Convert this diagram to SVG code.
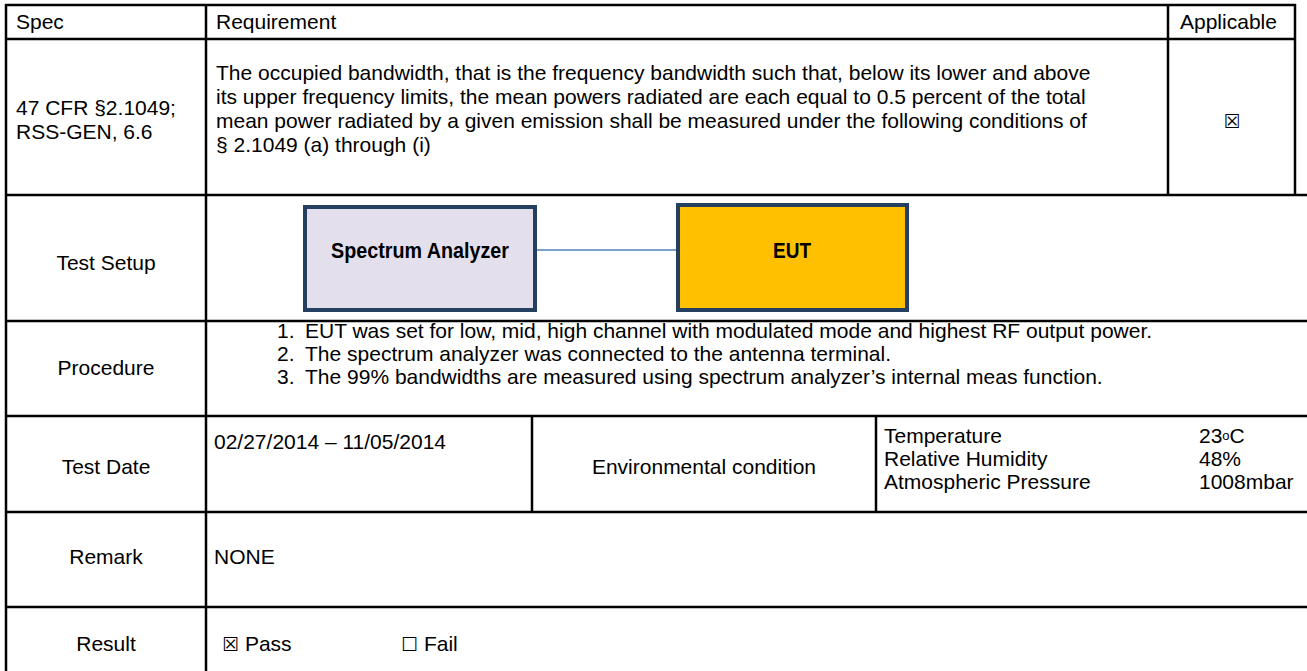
<svg xmlns="http://www.w3.org/2000/svg" width="1307" height="671" viewBox="0 0 1307 671">
<style>
.t{font-family:"Liberation Sans",Arial,sans-serif;font-size:21px;fill:#000}
.c{text-anchor:middle}
.bx{font-family:"Liberation Sans",Arial,sans-serif;font-size:22px;font-weight:bold;fill:#000;text-anchor:middle}
.sym{font-family:"DejaVu Sans",sans-serif;font-size:19px}
.grid line{stroke:#000;stroke-width:2.5}
</style>
<rect width="1307" height="671" fill="#fff"/>
<g id="grid" class="grid">
<line x1="5" y1="5" x2="1296" y2="5"/>
<line x1="5" y1="39" x2="1296" y2="39"/>
<line x1="5" y1="195" x2="1307" y2="195"/>
<line x1="5" y1="321" x2="1307" y2="321"/>
<line x1="5" y1="416" x2="1307" y2="416"/>
<line x1="5" y1="512" x2="1307" y2="512"/>
<line x1="5" y1="607" x2="1307" y2="607"/>
<line x1="6" y1="4" x2="6" y2="671"/>
<line x1="206" y1="4" x2="206" y2="671"/>
<line x1="1168" y1="4" x2="1168" y2="195"/>
<line x1="1295" y1="4" x2="1295" y2="195"/>
<line x1="532" y1="416" x2="532" y2="512"/>
<line x1="876" y1="416" x2="876" y2="512"/>
</g>
<g id="header">
<text class="t" x="16" y="29">Spec</text>
<text class="t" x="216" y="29">Requirement</text>
<text class="t" x="1180" y="29">Applicable</text>
</g>
<g id="row-spec">
<text class="t" x="16" y="115">47 CFR §2.1049;</text>
<text class="t" x="16" y="139">RSS-GEN, 6.6</text>
<text class="t" x="216" y="80">The occupied bandwidth, that is the frequency bandwidth such that, below its lower and above</text>
<text class="t" x="216" y="104">its upper frequency limits, the mean powers radiated are each equal to 0.5 percent of the total</text>
<text class="t" x="216" y="128">mean power radiated by a given emission shall be measured under the following conditions of</text>
<text class="t" x="216" y="152">§ 2.1049  (a) through (i)</text>
<text class="t c sym" x="1232" y="128">☒</text>
</g>
<g id="row-setup">
<text class="t c" x="106" y="270">Test Setup</text>
</g>
<g id="connectors">
<line x1="537" y1="250" x2="676" y2="250" stroke="#4F81BD" stroke-width="1.5"/>
</g>
<g id="spectrum-analyzer">
<rect x="305" y="207" width="230" height="103" fill="#E4DFEC" stroke="#243F60" stroke-width="4"/>
<text class="bx" x="420" y="258" textLength="178" lengthAdjust="spacingAndGlyphs">Spectrum Analyzer</text>
</g>
<g id="eut">
<rect x="678" y="205" width="229" height="105" fill="#FFC000" stroke="#243F60" stroke-width="4"/>
<text class="bx" x="792" y="258" textLength="38" lengthAdjust="spacingAndGlyphs">EUT</text>
</g>
<g id="row-procedure">
<text class="t c" x="106" y="375">Procedure</text>
<text class="t" x="277" y="338">1.</text>
<text class="t" x="305" y="338">EUT was set for low, mid, high channel with modulated mode and highest RF output power.</text>
<text class="t" x="277" y="361">2.</text>
<text class="t" x="305" y="361">The spectrum analyzer was connected to the antenna terminal.</text>
<text class="t" x="277" y="384">3.</text>
<text class="t" x="305" y="384">The 99% bandwidths are measured using spectrum analyzer’s internal meas function.</text>
</g>
<g id="row-date">
<text class="t c" x="106" y="474">Test Date</text>
<text class="t" x="214" y="449">02/27/2014 – 11/05/2014</text>
<text class="t c" x="704" y="474">Environmental condition</text>
<text class="t" x="884" y="443">Temperature</text>
<text class="t" x="884" y="466">Relative Humidity</text>
<text class="t" x="884" y="489">Atmospheric Pressure</text>
<text class="t" x="1199" y="443">23<tspan font-size="13" dy="-3">o</tspan><tspan dy="3">C</tspan></text>
<text class="t" x="1199" y="466">48%</text>
<text class="t" x="1199" y="489">1008mbar</text>
</g>
<g id="row-remark">
<text class="t c" x="106" y="564">Remark</text>
<text class="t" x="214" y="564">NONE</text>
</g>
<g id="row-result">
<text class="t c" x="106" y="651">Result</text>
<text class="t" x="222" y="651"><tspan class="sym">☒</tspan> Pass</text>
<text class="t" x="401" y="651"><tspan class="sym">☐</tspan> Fail</text>
</g>
</svg>
